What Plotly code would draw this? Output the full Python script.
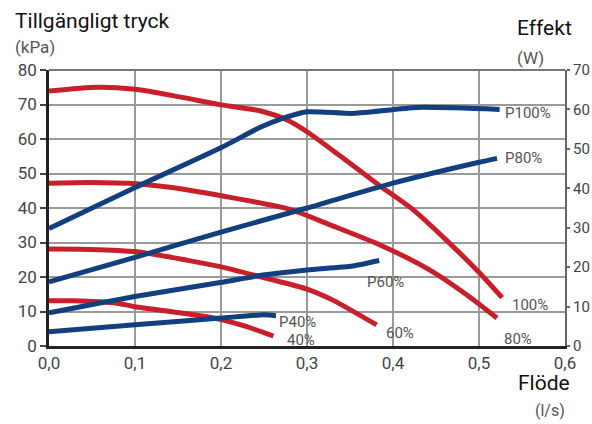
import plotly.graph_objects as go

# ---- data ----
flow_100 = [0.0, 0.056, 0.10, 0.152, 0.20, 0.245, 0.277, 0.30, 0.338, 0.385, 0.424, 0.462, 0.501, 0.527]
kpa_100 = [73.9, 75.0, 74.4, 72.2, 69.9, 68.2, 65.5, 62.1, 55.2, 46.4, 39.4, 30.7, 21.1, 14.0]

flow_80 = [0.0, 0.048, 0.102, 0.16, 0.199, 0.28, 0.327, 0.385, 0.443, 0.486, 0.521]
kpa_80 = [47.2, 47.4, 47.0, 45.3, 43.6, 39.6, 35.1, 29.3, 22.0, 14.8, 8.1]

flow_60 = [0.0, 0.048, 0.102, 0.16, 0.199, 0.253, 0.30, 0.33, 0.381]
kpa_60 = [28.1, 28.0, 27.3, 24.9, 23.0, 19.6, 16.5, 13.3, 6.1]

flow_40 = [0.0, 0.028, 0.079, 0.10, 0.156, 0.20, 0.23, 0.261]
kpa_40 = [13.1, 13.1, 12.4, 11.4, 9.5, 7.7, 5.6, 2.9]

flow_p100 = [0.0, 0.102, 0.201, 0.245, 0.27, 0.30, 0.354, 0.428, 0.524]
watt_p100 = [29.8, 40.4, 50.4, 55.4, 57.6, 59.4, 59.0, 60.5, 60.0]

flow_p80 = [0.0, 0.1, 0.2, 0.3, 0.4, 0.5, 0.521]
watt_p80 = [16.3, 22.5, 28.9, 35.0, 41.3, 46.6, 47.6]

flow_p60 = [0.0, 0.098, 0.199, 0.249, 0.30, 0.353, 0.384]
watt_p60 = [8.4, 12.5, 16.1, 18.0, 19.3, 20.3, 21.7]

flow_p40 = [0.0, 0.1, 0.2, 0.25, 0.264]
watt_p40 = [3.6, 5.4, 7.1, 7.9, 7.7]

x_ticks = [0.0, 0.1, 0.2, 0.3, 0.4, 0.5, 0.6]
x_tick_text = ["0,0", "0,1", "0,2", "0,3", "0,4", "0,5", "0,6"]
kpa_ticks = [0, 10, 20, 30, 40, 50, 60, 70, 80]
watt_ticks = [0, 10, 20, 30, 40, 50, 60, 70]

pressure_series = [("100%", flow_100, kpa_100), ("80%", flow_80, kpa_80),
                   ("60%", flow_60, kpa_60), ("40%", flow_40, kpa_40)]
power_series = [("P100%", flow_p100, watt_p100), ("P80%", flow_p80, watt_p80),
                ("P60%", flow_p60, watt_p60), ("P40%", flow_p40, watt_p40)]

RED = "#c8202b"
BLUE = "#123f7e"
FONT = "Roboto"

fig = go.Figure()
for name, fx, fy in pressure_series:
    fig.add_trace(go.Scatter(x=fx, y=fy, mode="lines", name=name,
                             line=dict(color=RED, width=5, shape="spline", smoothing=0.7),
                             yaxis="y"))
for name, fx, fy in power_series:
    fig.add_trace(go.Scatter(x=fx, y=fy, mode="lines", name=name,
                             line=dict(color=BLUE, width=5, shape="spline", smoothing=0.6),
                             yaxis="y2"))

# curve labels (x in l/s, y in kPa)
label_pos = [("P100%", 0.528, 67.5), ("P80%", 0.528, 54.5), ("P60%", 0.367, 18.6),
             ("P40%", 0.265, 7.0), ("100%", 0.536, 11.9), ("80%", 0.527, 2.0),
             ("60%", 0.390, 3.8), ("40%", 0.274, 1.7)]
annotations = []
for txt, ax_, ay_ in label_pos:
    annotations.append(dict(x=ax_, y=ay_, xref="x", yref="y", text=txt, showarrow=False,
                            xanchor="left", yanchor="middle",
                            font=dict(family=FONT, size=15, color="#555555")))

titles = [("Tillgängligt tryck", -0.070, 1.178, 21, "#111111"),
          ("(kPa)", -0.070, 1.083, 17, "#555555"),
          ("Effekt", 0.903, 1.152, 21, "#111111"),
          ("(W)", 0.903, 1.0435, 17, "#555555"),
          ("Flöde", 0.905, -0.135, 21, "#111111"),
          ("(l/s)", 0.938, -0.232, 16, "#555555")]
for txt, px, py, sz, col in titles:
    annotations.append(dict(x=px, y=py, xref="paper", yref="paper", text=txt, showarrow=False,
                            xanchor="left", yanchor="middle",
                            font=dict(family=FONT, size=sz, color=col)))

fig.update_layout(
    width=592, height=424, autosize=False,
    margin=dict(l=49, r=27, t=70, b=78),
    paper_bgcolor="white", plot_bgcolor="white",
    showlegend=False,
    font=dict(family=FONT, size=17, color="#444444"),
    annotations=annotations,
    xaxis=dict(range=[0, 0.6], tickvals=x_ticks, ticktext=x_tick_text, automargin=False,
               showgrid=True, gridcolor="#9a9a9a", gridwidth=1.5,
               showline=True, linecolor="#222222", linewidth=2.5,
               ticks="", zeroline=False, tickfont=dict(size=17, color="#444444")),
    yaxis=dict(range=[0, 80], tickvals=kpa_ticks, automargin=False,
               showgrid=True, gridcolor="#9a9a9a", gridwidth=1.5,
               showline=True, linecolor="#222222", linewidth=2.5,
               ticks="outside", ticklen=6, tickcolor="#444444", tickwidth=1.5,
               zeroline=False, tickfont=dict(size=17, color="#444444")),
    yaxis2=dict(range=[0, 70], tickvals=watt_ticks, overlaying="y", side="right", automargin=False,
                showgrid=False, showline=True, linecolor="#666666", linewidth=2,
                ticks="outside", ticklen=3, tickcolor="#666666", tickwidth=1.5,
                zeroline=False, tickfont=dict(size=15, color="#444444")),
    shapes=[dict(type="line", xref="paper", yref="paper", x0=0, x1=1, y0=1, y1=1,
                 line=dict(color="#777777", width=2))],
)

fig.write_html("out.html", config={"displayModeBar": False},
               post_script="document.body.style.margin='0';document.body.style.overflow='hidden';")
